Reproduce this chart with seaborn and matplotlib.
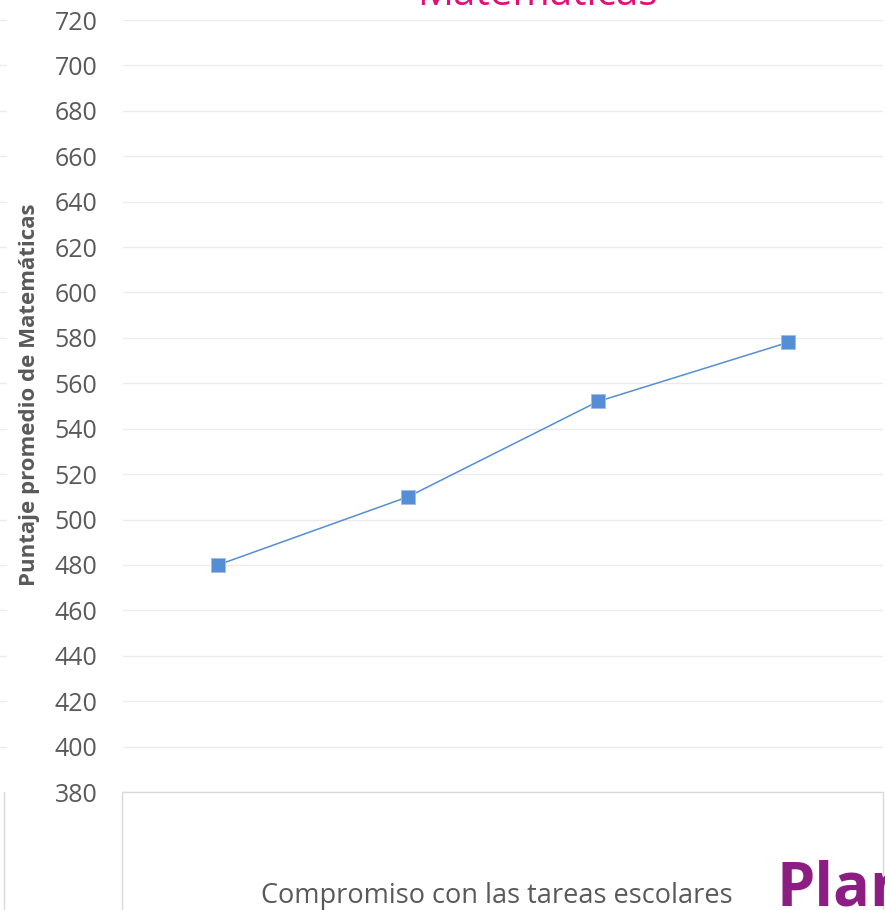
import matplotlib
matplotlib.use("Agg")
import matplotlib.pyplot as plt
from matplotlib.lines import Line2D
import seaborn as sns
import pandas as pd

# Data
categories = [0, 1, 2, 3]          # four levels of commitment (labels not shown in reference)
scores = [480, 510, 552, 578]
yticks = list(range(380, 721, 20))

title = "Matemáticas"
ylabel = "Puntaje promedio de Matemáticas"
xlabel = "Compromiso con las tareas escolares"
logo = "Plan"

sns.set_theme(style="white")
plt.rcParams["font.family"] = ["Open Sans", "DejaVu Sans"]

W, H = 885, 910
fig = plt.figure(figsize=(W / 100, H / 100), dpi=100)
ax = fig.add_axes([123 / W, (H - 792) / H, 760 / W, (792 - 20) / H])

df = pd.DataFrame({"cat": categories, "score": scores})
line_color = "#558ED5"
sns.lineplot(data=df, x="cat", y="score", ax=ax, color=line_color, linewidth=1.1,
             marker="s", markersize=10, markeredgewidth=0.6, markeredgecolor="#9DBCE8",
             zorder=3)

ax.set_xlim(-0.5, 3.5)
ax.set_ylim(380, 720)
ax.set_yticks(yticks)
ax.set_xticks([])
ax.set_xlabel("")
ax.set_ylabel("")
ax.tick_params(axis="y", labelsize=18, colors="#595959", length=0, pad=18.5)
for lab in ax.get_yticklabels():
    lab.set_color("#595959")
for s in ax.spines.values():
    s.set_visible(False)
ax.grid(axis="y", color="#EBEBEB", linewidth=1.0)
ax.grid(axis="x", visible=False)

# y label
fig.text(30 / W, 1 - 395 / H, ylabel, rotation=90, ha="center", va="center",
         fontsize=16, fontweight="bold", color="#595959")

# Title (cut off at top)
fig.text(537 / W, 1 - 5 / H, title, ha="center", va="baseline",
         fontsize=29, color="#E0107A")

# x-axis label area box
def fline(x0, y0, x1, y1, color="#D9D9D9", lw=1.0):
    fig.add_artist(Line2D([x0 / W, x1 / W], [1 - y0 / H, 1 - y1 / H],
                          color=color, linewidth=lw, transform=fig.transFigure))

fline(122, 792, 883, 792)
fline(122, 792, 122, 912)
fline(883, 792, 883, 912)
fline(4, 792, 4, 912)
for v in yticks[1:]:
    yy = 20 + (720 - v) * (772 / 340)
    fline(0, yy, 6, yy, color="#EBEBEB")

fig.text(497 / W, 1 - 903 / H, xlabel, ha="center", va="baseline",
         fontsize=19.5, color="#595959")

fig.text(777 / W, 1 - 905 / H, logo, ha="left", va="baseline",
         fontsize=44, fontweight="bold", color="#8C1D82")

fig.savefig("out.png", dpi=100, facecolor="white")
